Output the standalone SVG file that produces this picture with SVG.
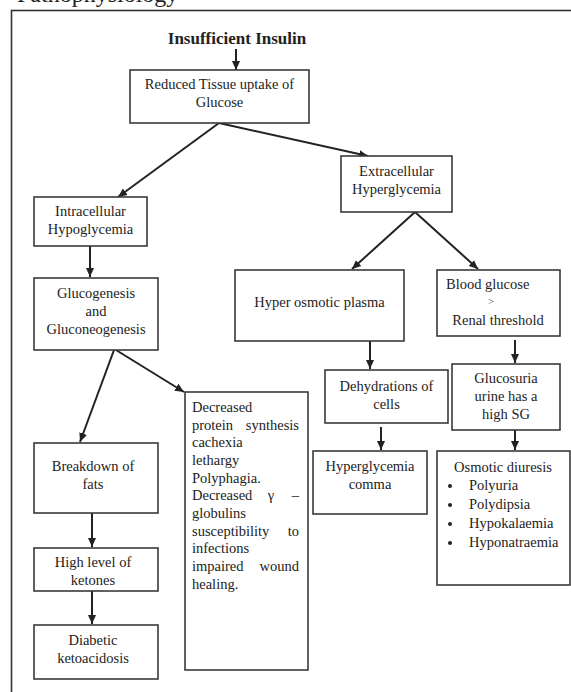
<svg xmlns="http://www.w3.org/2000/svg" width="571" height="692" viewBox="0 0 571 692">
<style>
.box{fill:#fff;stroke:#3a3a3a;stroke-width:1.6}
.t{font-family:"Liberation Serif","Times New Roman",serif;font-size:14.5px;fill:#222}
.c{text-anchor:middle}
.e{text-anchor:end}
.ln{stroke:#222;stroke-width:2;fill:none;marker-end:url(#ah)}
</style>
<defs>
<marker id="ah" markerUnits="userSpaceOnUse" markerWidth="10" markerHeight="10" viewBox="0 0 10 10" refX="9" refY="5" orient="auto">
<path d="M0,1 L9,5 L0,9 Z" fill="#222"/>
</marker>
</defs>
<rect width="571" height="692" fill="#fff"/>
<text x="17" y="1.5" style="font-family:'Liberation Serif',serif;font-size:24px;fill:#222">Pathophysiology</text>
<rect x="11.5" y="10.5" width="620" height="700" fill="none" stroke="#333" stroke-width="1.6"/>

<g id="connectors">
<line class="ln" x1="236" y1="49" x2="236" y2="70"/>
<line class="ln" x1="219" y1="123" x2="118" y2="197"/>
<line class="ln" x1="219" y1="123" x2="368" y2="156"/>
<line class="ln" x1="90" y1="246" x2="90" y2="277"/>
<line class="ln" x1="114" y1="350" x2="80" y2="442"/>
<line class="ln" x1="116" y1="350" x2="184" y2="392"/>
<line class="ln" x1="92" y1="513" x2="92" y2="547"/>
<line class="ln" x1="92" y1="591" x2="92" y2="624"/>
<line class="ln" x1="415" y1="212" x2="352" y2="269"/>
<line class="ln" x1="415" y1="212" x2="478" y2="269"/>
<line class="ln" x1="370" y1="341" x2="370" y2="369"/>
<line class="ln" x1="515" y1="340" x2="515" y2="363"/>
<line class="ln" x1="381" y1="427" x2="381" y2="450"/>
<line class="ln" x1="515" y1="430" x2="515" y2="450"/>
</g>

<g id="title">
<text class="t c" x="237" y="44" style="font-weight:bold;font-size:17px">Insufficient Insulin</text>
</g>

<g id="reduced">
<rect class="box" x="130" y="70" width="179" height="53"/>
<text class="t c" x="219.5" y="89">Reduced Tissue uptake of</text>
<text class="t c" x="219.5" y="107">Glucose</text>
</g>

<g id="intracellular">
<rect class="box" x="34" y="197" width="113" height="49"/>
<text class="t c" x="90.5" y="216">Intracellular</text>
<text class="t c" x="90.5" y="234">Hypoglycemia</text>
</g>

<g id="extracellular">
<rect class="box" x="341" y="156" width="111" height="56"/>
<text class="t c" x="396.5" y="176">Extracellular</text>
<text class="t c" x="396.5" y="194">Hyperglycemia</text>
</g>

<g id="glucogenesis">
<rect class="box" x="34" y="278" width="124" height="72"/>
<text class="t c" x="96" y="298">Glucogenesis</text>
<text class="t c" x="96" y="316">and</text>
<text class="t c" x="96" y="334">Gluconeogenesis</text>
</g>

<g id="hyperosmotic">
<rect class="box" x="235" y="270" width="169" height="71"/>
<text class="t c" x="319.5" y="307">Hyper osmotic plasma</text>
</g>

<g id="bloodglucose">
<rect class="box" x="437" y="270" width="123" height="66"/>
<text class="t" x="446" y="289">Blood glucose</text>
<text class="t c" x="491" y="305" style="font-size:11px;fill:#555">&gt;</text>
<text class="t c" x="498" y="325">Renal threshold</text>
</g>

<g id="dehydrations">
<rect class="box" x="325" y="370" width="123" height="53"/>
<text class="t c" x="386.5" y="391">Dehydrations of</text>
<text class="t c" x="386.5" y="409">cells</text>
</g>

<g id="glucosuria">
<rect class="box" x="452" y="364" width="108" height="66"/>
<text class="t c" x="506" y="383">Glucosuria</text>
<text class="t c" x="506" y="401">urine has a</text>
<text class="t c" x="506" y="419">high SG</text>
</g>

<g id="breakdown">
<rect class="box" x="34" y="443" width="124" height="70"/>
<text class="t c" x="93" y="471">Breakdown of</text>
<text class="t c" x="93" y="489">fats</text>
</g>

<g id="decreased">
<rect class="box" x="185" y="392" width="123" height="278"/>
<text class="t" x="192" y="412">Decreased</text>
<text class="t" y="429.5"><tspan x="192">protein</tspan><tspan x="299" class="e">synthesis</tspan></text>
<text class="t" x="192" y="447">cachexia</text>
<text class="t" x="192" y="465">lethargy</text>
<text class="t" x="192" y="482.5">Polyphagia.</text>
<text class="t" y="500"><tspan x="192">Decreased</tspan><tspan x="271" class="c">γ</tspan><tspan x="299" class="e">–</tspan></text>
<text class="t" x="192" y="518">globulins</text>
<text class="t" y="535.5"><tspan x="192">susceptibility</tspan><tspan x="299" class="e">to</tspan></text>
<text class="t" x="192" y="553">infections</text>
<text class="t" y="571"><tspan x="192">impaired</tspan><tspan x="299" class="e">wound</tspan></text>
<text class="t" x="192" y="588.5">healing.</text>
</g>

<g id="hyperglycemiacomma">
<rect class="box" x="313" y="451" width="114" height="63"/>
<text class="t c" x="370" y="471">Hyperglycemia</text>
<text class="t c" x="370" y="489">comma</text>
</g>

<g id="osmotic">
<rect class="box" x="437" y="451" width="133" height="134"/>
<text class="t c" x="503" y="472">Osmotic diuresis</text>
<circle cx="450" cy="486" r="2" fill="#222"/>
<circle cx="450" cy="505" r="2" fill="#222"/>
<circle cx="450" cy="524" r="2" fill="#222"/>
<circle cx="450" cy="543" r="2" fill="#222"/>
<text class="t" x="469" y="490">Polyuria</text>
<text class="t" x="469" y="509">Polydipsia</text>
<text class="t" x="469" y="528">Hypokalaemia</text>
<text class="t" x="469" y="547">Hyponatraemia</text>
</g>

<g id="highketones">
<rect class="box" x="34" y="548" width="124" height="43"/>
<text class="t c" x="93" y="567">High level of</text>
<text class="t c" x="93" y="585">ketones</text>
</g>

<g id="dka">
<rect class="box" x="34" y="625" width="124" height="54"/>
<text class="t c" x="93" y="645">Diabetic</text>
<text class="t c" x="93" y="663">ketoacidosis</text>
</g>
</svg>
